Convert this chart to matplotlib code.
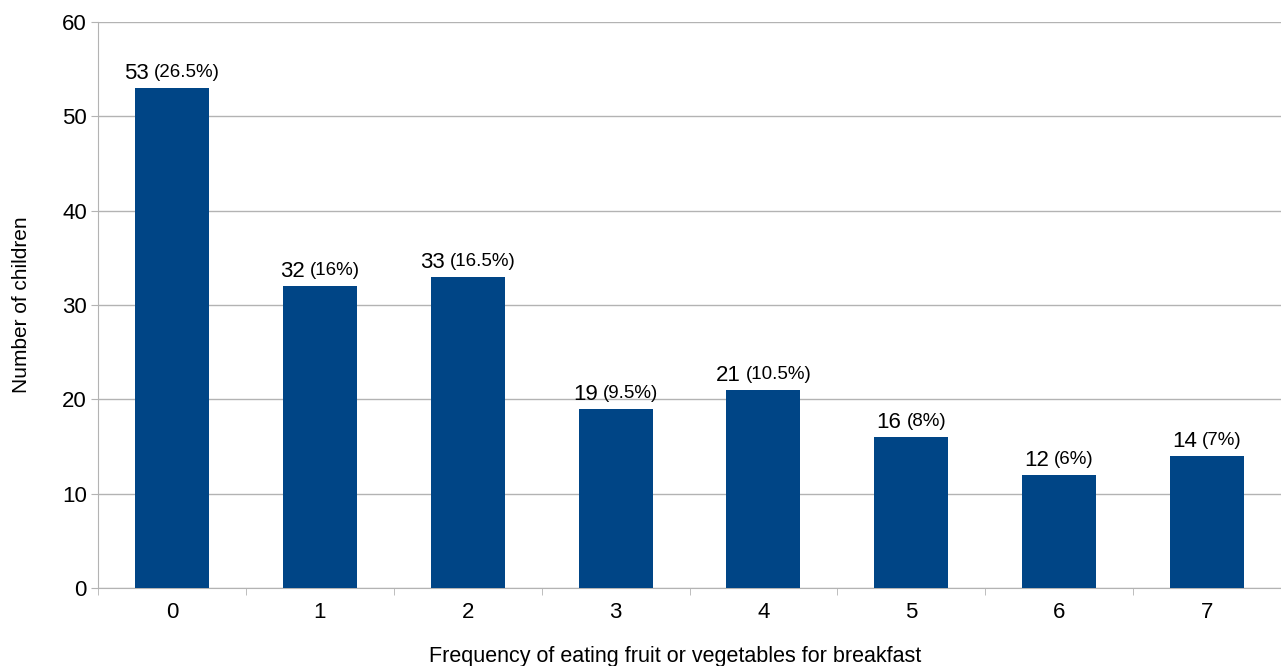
import matplotlib.pyplot as plt
import numpy as np

plt.rcParams['font.family'] = ['Liberation Sans', 'DejaVu Sans']

freq = [0, 1, 2, 3, 4, 5, 6, 7]
children = [53, 32, 33, 19, 21, 16, 12, 14]
percent = ['26.5%', '16%', '16.5%', '9.5%', '10.5%', '8%', '6%', '7%']

bar_color = '#004586'
grid_color = '#b3b3b3'

fig = plt.figure(figsize=(12.81, 6.66), dpi=100)
ax = fig.add_axes([98 / 1281, 1 - 588 / 666, 1 - 98 / 1281, (588 - 22) / 666])

x = np.arange(len(freq))
ax.bar(x, children, width=0.5, color=bar_color, zorder=3)

ax.set_xlim(-0.5, len(freq) - 0.5)
ax.set_ylim(0, 60)
ax.set_yticks(range(0, 61, 10))
ax.set_xticks(x)
ax.set_xticklabels([str(f) for f in freq])
ax.set_xticks(np.arange(-0.5, len(freq), 1), minor=True)
ax.tick_params(axis='x', which='major', length=0, pad=10, labelsize=16)
ax.tick_params(axis='x', which='minor', length=5, color=grid_color)
ax.tick_params(axis='y', length=5, color=grid_color, labelsize=16, pad=3)

ax.grid(axis='y', color=grid_color, linewidth=1, zorder=0)
for side in ['top', 'right']:
    ax.spines[side].set_visible(False)
for side in ['left', 'bottom']:
    ax.spines[side].set_color(grid_color)

ax.set_ylabel('Number of children', fontsize=15, labelpad=22)
ax.set_xlabel('Frequency of eating fruit or vegetables for breakfast', fontsize=15.5)
ax.xaxis.set_label_coords(0.488, -0.103)

# value labels: count in a larger font, share in a smaller one, centred together
fig.canvas.draw()
renderer = fig.canvas.get_renderer()
for xi, n, p in zip(x, children, percent):
    t1 = ax.annotate(str(n), (xi, n), xytext=(0, 3), textcoords='offset points',
                     ha='left', va='bottom', fontsize=16)
    t2 = ax.annotate('(' + p + ')', (xi, n), xytext=(0, 5), textcoords='offset points',
                     ha='left', va='bottom', fontsize=13.5)
    w1 = t1.get_window_extent(renderer).width
    w2 = t2.get_window_extent(renderer).width
    gap = 5
    total = w1 + gap + w2
    t1.set_position((-total / 2 * 72 / fig.dpi, 3))
    t2.set_position(((-total / 2 + w1 + gap) * 72 / fig.dpi, 5))

fig.savefig('out.png', dpi=100)
